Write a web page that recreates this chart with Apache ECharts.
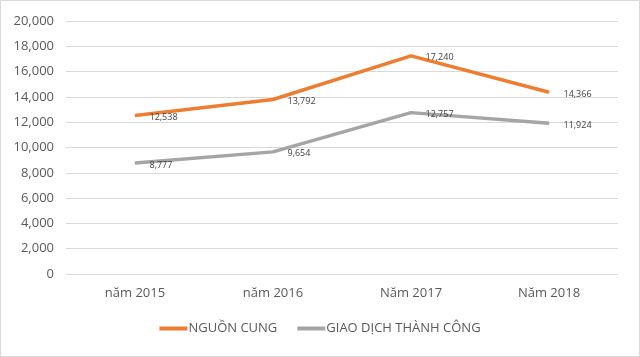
<!DOCTYPE html>
<html><head><meta charset="utf-8">
<script src="https://cdn.jsdelivr.net/npm/echarts@6/dist/echarts.min.js"></script>
<style>html,body{margin:0;padding:0;background:#fff}#c{width:640px;height:357px;box-sizing:border-box;border:1px solid #d9d9d9}</style>
</head><body><div id="c"></div>
<script>
const categories = ["năm 2015", "năm 2016", "Năm 2017", "Năm 2018"];
const supply = [12538, 13792, 17240, 14366];
const transactions = [8777, 9654, 12757, 11924];
const seriesNames = ["NGUỒN CUNG", "GIAO DỊCH THÀNH CÔNG"];
const yTicks = { min: 0, max: 20000, interval: 2000 };

const fmt = v => v.toLocaleString('en-US');
const chart = echarts.init(document.getElementById('c'), null, {renderer: 'canvas'});
const font = "'Open Sans', sans-serif";
const label = {show: true, position: 'right', distance: 14, color: '#404040', fontSize: 9, fontFamily: font,
  offset: [0, 2], formatter: p => fmt(p.value)};
chart.setOption({
  animation: false,
  textStyle: {fontFamily: font},
  grid: {left: 65, right: 21, top: 20, bottom: 82, containLabel: false},
  xAxis: {type: 'category', data: categories, boundaryGap: true,
    axisLine: {show: false}, axisTick: {show: false},
    axisLabel: {color: '#595959', fontSize: 13, fontFamily: font, margin: 13}},
  yAxis: {type: 'value', min: yTicks.min, max: yTicks.max, interval: yTicks.interval,
    axisLine: {show: false}, axisTick: {show: false},
    splitLine: {lineStyle: {color: '#d9d9d9', width: 1}},
    axisLabel: {color: '#595959', fontSize: 13, fontFamily: font, margin: 12, formatter: v => fmt(v)}},
  legend: {bottom: 16, left: 'center', itemWidth: 28, itemHeight: 4, itemGap: 20, icon: 'rect',
    textStyle: {color: '#595959', fontSize: 13, fontFamily: font, padding: [0,0,0,-4]},
    data: seriesNames},
  series: [
    {name: seriesNames[0], type: 'line', data: supply, symbol: 'circle', symbolSize: 1, showSymbol: true,
      lineStyle: {width: 3.5, color: '#ED7D31'}, itemStyle: {color: '#ED7D31'}, label: label},
    {name: seriesNames[1], type: 'line', data: transactions, symbol: 'circle', symbolSize: 1, showSymbol: true,
      lineStyle: {width: 3.5, color: '#A5A5A5'}, itemStyle: {color: '#A5A5A5'}, label: label}
  ]
});
</script></body></html>
